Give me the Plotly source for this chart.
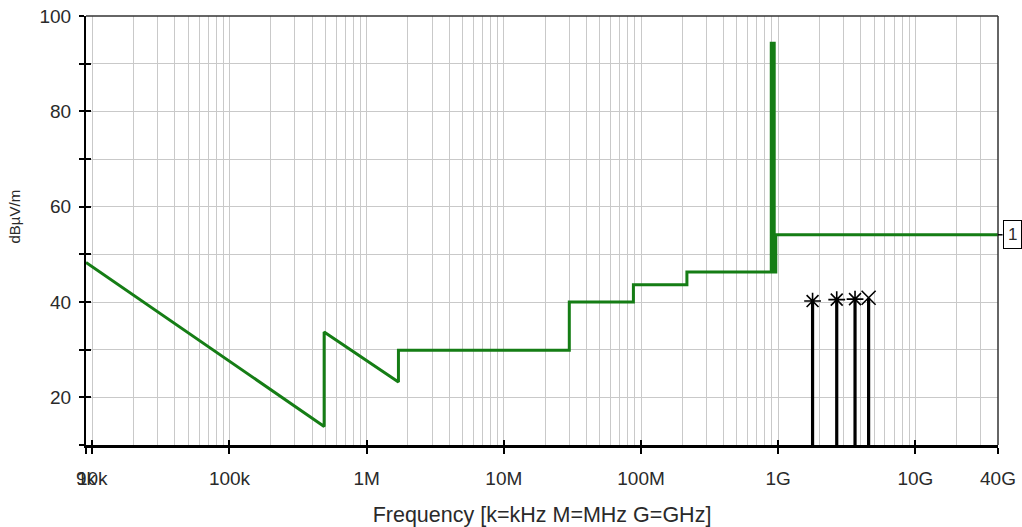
import math
import plotly.graph_objects as go

# Limit line (frequency in Hz, level in dBuV/m)
limit_freq_hz = [9e3, 490e3, 490e3, 1.705e6, 1.705e6, 30e6, 30e6, 88e6, 88e6,
                 216e6, 216e6, 890e6, 890e6, 935e6, 935e6, 960e6, 960e6, 40e9]
limit_level = [48.3, 13.9, 33.7, 23.2, 29.9, 29.9, 40.0, 40.0, 43.6,
               43.6, 46.3, 46.3, 94.3, 94.3, 46.3, 46.3, 54.1, 54.1]

# Measured emissions
emission_freq_hz = [1.78e9, 2.67e9, 3.63e9, 4.56e9]
emission_level = [40.2, 40.5, 40.6, 40.9]
emission_symbol = ["asterisk-open", "asterisk-open", "asterisk-open", "x-thin-open"]

# Axis ticks
x_tick_vals = [9e3, 1e4, 1e5, 1e6, 1e7, 1e8, 1e9, 1e10, 4e10]
x_tick_text = ["9k", "10k", "100k", "1M", "10M", "100M", "1G", "10G", "40G"]
y_tick_vals = [20, 40, 60, 80, 100]
y_range = [10, 100]
x_min, x_max = 9e3, 40e9

x_range = [math.log10(x_min), math.log10(x_max)]

# log grid: 1..9 in every decade within range
x_grid_vals = [m * 10 ** d for d in range(3, 11) for m in range(1, 10)
               if x_min <= m * 10 ** d <= x_max]

font_family = "Liberation Sans, Arial, sans-serif"
text_color = "#2a2a2a"
green = "#157d15"
grid_color = "#c9c9c9"

fig = go.Figure()

# emission stems
stem_x, stem_y = [], []
for f, v in zip(emission_freq_hz, emission_level):
    stem_x += [f, f, None]
    stem_y += [y_range[0], v, None]
fig.add_trace(go.Scatter(x=stem_x, y=stem_y, mode="lines",
                         line=dict(color="black", width=3.2),
                         hoverinfo="skip", showlegend=False))
fig.add_trace(go.Scatter(x=emission_freq_hz, y=emission_level, mode="markers",
                         marker=dict(symbol=emission_symbol, size=14, color="black",
                                     line=dict(color="black", width=1.6)),
                         showlegend=False))

# limit line
fig.add_trace(go.Scatter(x=limit_freq_hz, y=limit_level, mode="lines",
                         line=dict(color=green, width=3),
                         showlegend=False))

# helper trace for the overlay axes (inner tick marks)
fig.add_trace(go.Scatter(x=[x_min], y=[y_range[0]], xaxis="x2", yaxis="y2",
                         mode="markers", marker=dict(opacity=0),
                         hoverinfo="skip", showlegend=False))

fig.update_layout(
    width=1022, height=527,
    margin=dict(l=86, r=24, t=16, b=82),
    paper_bgcolor="white", plot_bgcolor="white",
    font=dict(family=font_family, color=text_color),
    xaxis=dict(
        type="log", range=x_range, automargin=False,
        tickmode="array", tickvals=x_tick_vals, ticktext=x_tick_text,
        tickangle=0, ticks="outside", ticklen=6, tickwidth=1.5, tickcolor="black",
        tickfont=dict(size=19, color=text_color), ticklabelstandoff=8,
        showline=True, linecolor="black", linewidth=3,
        showgrid=False, zeroline=False,
        minor=dict(tickmode="array", tickvals=x_grid_vals, ticks="",
                   showgrid=True, gridcolor=grid_color, gridwidth=1.2),
        title=dict(text="Frequency [k=kHz M=MHz G=GHz]",
                   font=dict(size=21.5, color=text_color), standoff=22),
    ),
    yaxis=dict(
        range=y_range, automargin=False, tickmode="array", tickvals=y_tick_vals,
        ticks="outside", ticklen=5, tickwidth=1.5, tickcolor="black",
        tickfont=dict(size=19, color=text_color), ticklabelstandoff=4,
        showline=True, linecolor="black", linewidth=2,
        showgrid=True, gridcolor=grid_color, gridwidth=1.2, zeroline=False,
        minor=dict(dtick=10, tick0=0, ticks="outside", ticklen=5, tickwidth=1.5,
                   tickcolor="black", showgrid=True, gridcolor=grid_color,
                   gridwidth=1.2),
    ),
    xaxis2=dict(
        type="log", range=x_range, overlaying="x", anchor="y2", side="bottom",
        automargin=False,
        tickmode="array", tickvals=x_tick_vals, showticklabels=False,
        ticks="inside", ticklen=5, tickwidth=1.5, tickcolor="black",
        showgrid=False, showline=False, zeroline=False,
    ),
    yaxis2=dict(
        range=y_range, overlaying="y", anchor="x2", side="left", automargin=False,
        tickmode="array", tickvals=y_tick_vals, showticklabels=False,
        ticks="inside", ticklen=5, tickwidth=1.5, tickcolor="black",
        minor=dict(dtick=10, tick0=0, ticks="inside", ticklen=5, tickwidth=1.5,
                   tickcolor="black", showgrid=False),
        showgrid=False, showline=False, zeroline=False,
    ),
    shapes=[
        # frame top and right
        dict(type="line", xref="paper", yref="paper", x0=0, x1=1, y0=1, y1=1,
             line=dict(color="#333333", width=1.5), layer="above"),
        dict(type="line", xref="paper", yref="paper", x0=1, x1=1, y0=0, y1=1,
             line=dict(color="#333333", width=1.5), layer="above"),
        # connector from limit line to its label
        dict(type="line", xref="paper", yref="y", x0=1, x1=1.005,
             y0=limit_level[-1], y1=limit_level[-1],
             line=dict(color="black", width=1.5), layer="above"),
    ],
    annotations=[
        # y axis title
        dict(text="dBµV/m", xref="paper", yref="paper", x=0, y=0.5,
             xshift=-72, yshift=14, textangle=-90, showarrow=False,
             xanchor="center", yanchor="middle",
             font=dict(size=15, color=text_color, family=font_family)),
        # limit line label
        dict(text="1", xref="paper", yref="y", x=1.005, y=limit_level[-1],
             xanchor="left", yanchor="middle", showarrow=False,
             font=dict(size=17, color=text_color, family=font_family),
             bordercolor="black", borderwidth=1, borderpad=4, bgcolor="white"),
    ],
)

fig.write_html("out.html")
